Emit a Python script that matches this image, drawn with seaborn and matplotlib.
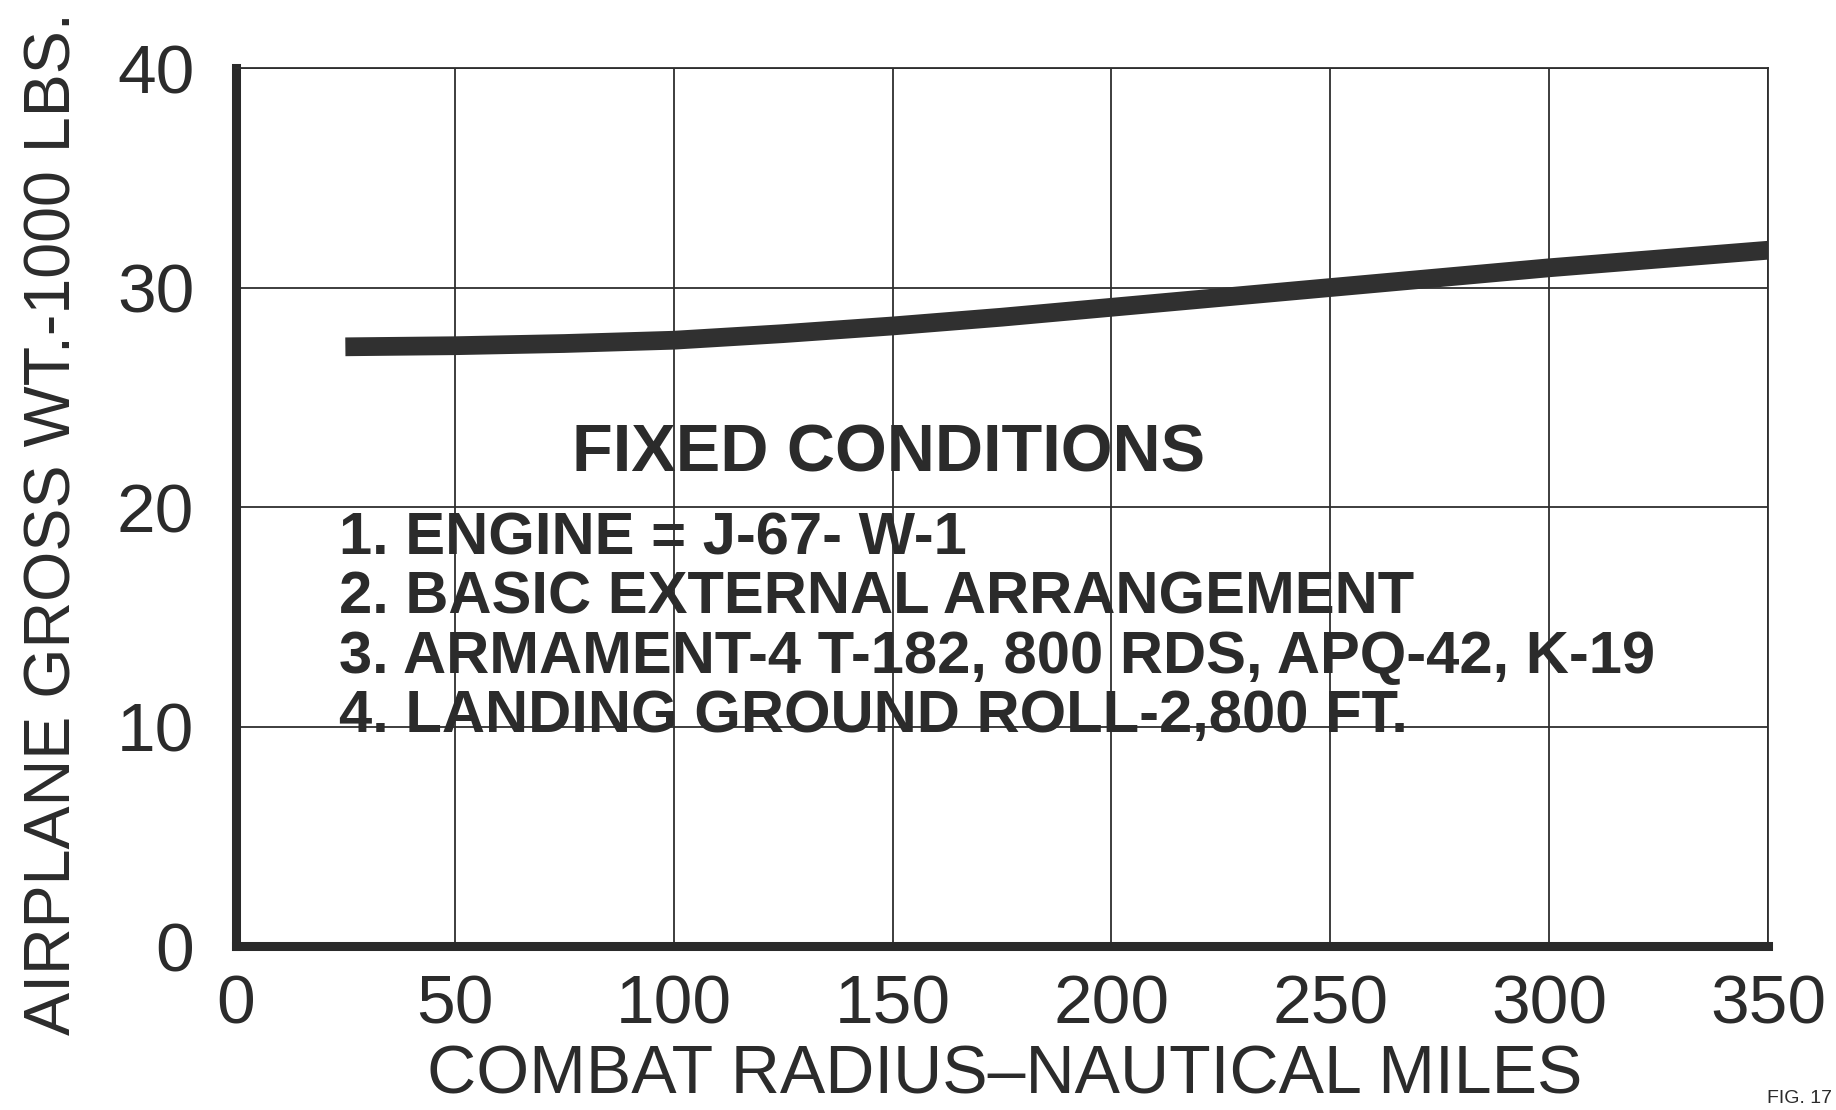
import numpy as np
import pandas as pd
import matplotlib
matplotlib.use("Agg")
import matplotlib.pyplot as plt
import seaborn as sns

# Dados (raio de combate x peso bruto)
raio_nm = [25, 50, 75, 100, 125, 150, 175, 200, 225, 250, 275, 300, 325, 350]
peso_1000lbs = [27.3, 27.35, 27.45, 27.6, 27.9, 28.25, 28.65, 29.1, 29.55,
                30.0, 30.45, 30.9, 31.3, 31.7]

x_ticks = [0, 50, 100, 150, 200, 250, 300, 350]
y_ticks = [0, 10, 20, 30, 40]

titulo_caixa = "FIXED CONDITIONS"
condicoes = [
    "1. ENGINE = J-67- W-1",
    "2. BASIC EXTERNAL ARRANGEMENT",
    "3. ARMAMENT-4 T-182, 800 RDS, APQ-42, K-19",
    "4. LANDING GROUND ROLL-2,800 FT.",
]

tinta = "#2b2b2b"

sns.set_style("white")
plt.rcParams['font.family'] = ['Liberation Sans', 'DejaVu Sans']

fig = plt.figure(figsize=(18.36, 11.10), dpi=100)
ax = fig.add_axes([0.1285, 0.1477, 0.8345, 0.791])

df = pd.DataFrame({"raio": raio_nm, "peso": peso_1000lbs})
sns.lineplot(data=df, x="raio", y="peso", ax=ax, color="#303030",
             linewidth=13.5, solid_capstyle="butt", solid_joinstyle="round",
             zorder=3)

ax.set_xlim(0, 350)
ax.set_ylim(0, 40)
ax.set_xticks(x_ticks)
ax.set_yticks(y_ticks)
ax.set_xticklabels([str(v) for v in x_ticks])
ax.set_yticklabels([str(v) for v in y_ticks])
ax.tick_params(axis="both", length=0, labelsize=50, colors=tinta)
ax.tick_params(axis="x", pad=20)
ax.tick_params(axis="y", pad=30)

# Grade fina
ax.grid(True, color="#2e2e2e", linewidth=1.3)
ax.set_axisbelow(True)

# Eixos grossos à esquerda e embaixo, finos em cima e à direita
for lado in ["top", "right"]:
    ax.spines[lado].set_visible(True)
    ax.spines[lado].set_color("#2e2e2e")
    ax.spines[lado].set_linewidth(1.3)
for lado in ["left", "bottom"]:
    ax.spines[lado].set_visible(True)
    ax.spines[lado].set_color("#2a2a2a")
    ax.spines[lado].set_linewidth(6.5)

ax.set_xlabel("")
ax.set_ylabel("")

fig.text(0.547, 0.031, "COMBAT RADIUS–NAUTICAL MILES", ha="center", va="center",
         fontsize=49, color=tinta)
fig.text(0.029, 0.528, "AIRPLANE GROSS WT.-1000 LBS.", ha="center", va="center",
         rotation=90, fontsize=46.5, color=tinta)

# Caixa de condições fixas
ax.text(149, 22.4, titulo_caixa, ha="center", va="center", fontsize=48,
        fontweight="bold", color=tinta, zorder=2)
ys = [18.55, 15.85, 13.15, 10.45]
for texto, yy in zip(condicoes, ys):
    ax.text(23.5, yy, texto, ha="left", va="center", fontsize=43,
            fontweight="bold", color=tinta, zorder=2)

fig.text(0.998, 0.003, "FIG. 17", ha="right", va="bottom", fontsize=14, color=tinta)

fig.savefig("out.png", dpi=100)
